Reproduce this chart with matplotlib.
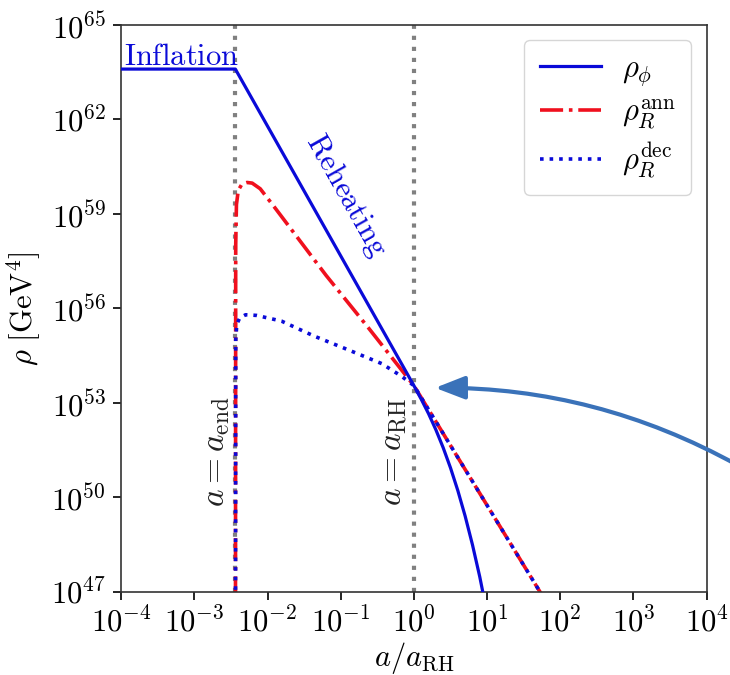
import numpy as np
import matplotlib
matplotlib.use("Agg")
import matplotlib.pyplot as plt
from matplotlib.ticker import NullLocator, LogFormatterSciNotation

plt.rcParams["mathtext.fontset"] = "cm"
plt.rcParams["font.family"] = "serif"
plt.rcParams["font.serif"] = ["cmr10", "DejaVu Serif"]
plt.rcParams["axes.formatter.use_mathtext"] = True

# curves as (log10 a/a_RH, log10 rho)
log_a_end = -2.44

log_a_phi = [-4.0, -2.44, 0.0, 0.1, 0.2, 0.3, 0.4, 0.5, 0.6, 0.7, 0.8, 0.9, 0.95]
log_rho_phi = [63.6, 63.6, 53.55, 53.12, 52.66, 52.15, 51.58, 50.94, 50.22, 49.41, 48.5, 47.48, 46.9]

log_a_ann = [-2.44, -2.435, -2.425, -2.40, -2.35, -2.28, -2.21, -2.1, -1.9, -1.2, -0.62, 0.0,
             0.5, 1.0, 1.5, 1.75]
log_rho_ann = [40.0, 58.0, 59.3, 59.75, 59.95, 60.0, 59.98, 59.8, 59.2, 57.05, 55.38, 53.55,
               51.65, 49.75, 47.85, 46.9]

log_a_dec = [-2.44, -2.435, -2.42, -2.38, -2.3, -2.15, -1.81, -1.36, -0.89, -0.44, -0.17, 0.0,
             0.5, 1.0, 1.5, 1.75]
log_rho_dec = [40.0, 55.0, 55.5, 55.7, 55.8, 55.78, 55.6, 55.12, 54.68, 54.25, 53.85, 53.55,
               51.65, 49.75, 47.85, 46.9]

x_ticks = [1e-4, 1e-3, 1e-2, 1e-1, 1e0, 1e1, 1e2, 1e3, 1e4]
y_ticks = [1e47, 1e50, 1e53, 1e56, 1e59, 1e62, 1e65]

fig = plt.figure(figsize=(7.3, 6.75), dpi=100)
ax = fig.add_axes([0.166, 0.123, 0.802, 0.840])

blue = "#0a0ad8"
red = "#f0101e"

ax.axvline(10**log_a_end, color="gray", ls=":", lw=3, zorder=1)
ax.axvline(1.0, color="gray", ls=":", lw=3, zorder=1)

ax.plot(10**np.array(log_a_phi), 10**np.array(log_rho_phi), color=blue, lw=2.3,
        label=r"$\rho_\phi$", zorder=3)
ax.plot(10**np.array(log_a_ann), 10**np.array(log_rho_ann), color=red, lw=2.6, ls="-.",
        label=r"$\rho_R^{\mathrm{ann}}$", zorder=2)
ax.plot(10**np.array(log_a_dec), 10**np.array(log_rho_dec), color=blue, lw=2.6, ls=":",
        label=r"$\rho_R^{\mathrm{dec}}$", zorder=4)

ax.set_xscale("log")
ax.set_yscale("log")
ax.set_xlim(1e-4, 1e4)
ax.set_ylim(1e47, 1e65)
ax.set_xticks(x_ticks)
ax.set_yticks(y_ticks)
ax.xaxis.set_minor_locator(NullLocator())
ax.yaxis.set_minor_locator(NullLocator())
ax.xaxis.set_major_formatter(LogFormatterSciNotation())
ax.yaxis.set_major_formatter(LogFormatterSciNotation())
ax.tick_params(labelsize=22, length=6, width=1.2, pad=5, direction="out")
for s in ax.spines.values():
    s.set_linewidth(1.2)
    s.set_color("#333333")

ax.set_xlabel(r"$a/a_{\mathrm{RH}}$", fontsize=22, labelpad=1)
ax.set_ylabel(r"$\rho\ [\mathrm{GeV}^4]$", fontsize=22, labelpad=6)

ax.text(1.08e-4, 10**63.72, r"$\mathrm{Inflation}$", color=blue, fontsize=22,
        ha="left", va="baseline")
ax.text(10**-0.92, 10**59.6, r"$\mathrm{Reheating}$", color=blue, fontsize=22,
        rotation=-60.6, rotation_mode="anchor", ha="center", va="center")
ax.text(10**(log_a_end - 0.24), 10**51.45, r"$a = a_{\mathrm{end}}$", fontsize=24,
        color="#222222", rotation=90, ha="center", va="center")
ax.text(10**(-0.27), 10**51.45, r"$a = a_{\mathrm{RH}}$", fontsize=24,
        color="#222222", rotation=90, ha="center", va="center")

ax.legend(loc="upper right", fontsize=22, handlelength=2.0, labelspacing=0.3,
          borderpad=0.5, handletextpad=0.7)

ax.annotate("", xy=(10**0.29, 10**53.48), xycoords="data",
            xytext=(1.01, 1 - 465 / 675), textcoords="figure fraction",
            annotation_clip=False,
            arrowprops=dict(arrowstyle="-|>,head_length=0.9,head_width=0.35",
                            mutation_scale=20, color="#3a72b9", lw=3,
                            shrinkA=0, shrinkB=0,
                            connectionstyle="arc3,rad=0.13", clip_on=False))

fig.savefig("out.png", dpi=100)
